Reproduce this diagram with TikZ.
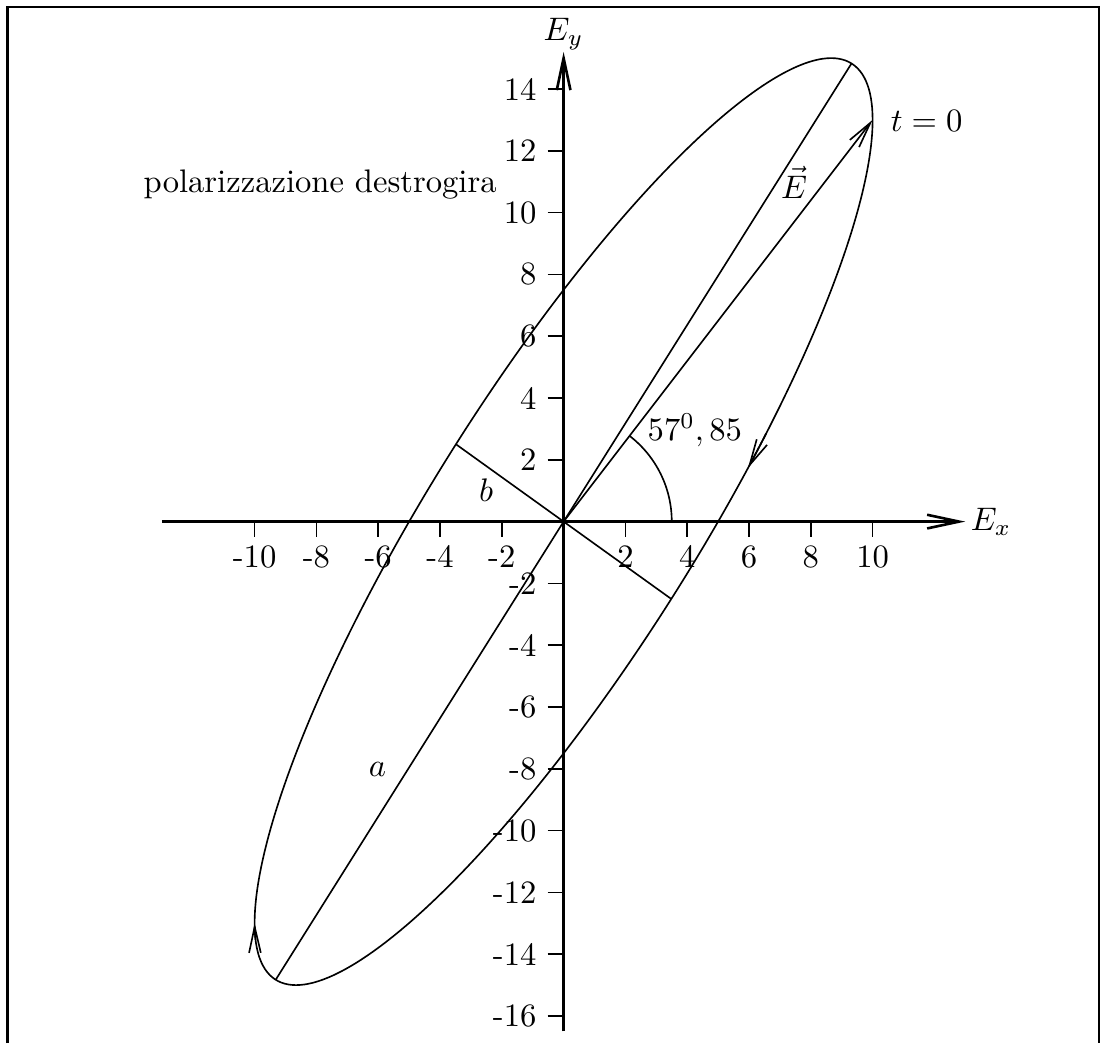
\documentclass[tikz,border=0pt]{standalone}
\usetikzlibrary{arrows.meta}
\begin{document}
\begin{tikzpicture}[x=0.333cm,y=0.333cm,
  curve/.style={line width=0.5pt},
  axisline/.style={line width=0.8pt,-{Straight Barb[length=9.8pt,width=4.2pt]}},
  tipend/.style={-{Straight Barb[length=8pt,width=3.6pt]}},
  tickmark/.style={line width=0.5pt},
  lbl/.style={inner sep=0pt}]
\useasboundingbox (-18.24,-16.88) rectangle (17.65,16.88);
% frame
\coordinate (F1) at (-18,-16.88);
\coordinate (F2) at (-18,16.66);
\coordinate (F3) at (17.32,16.66);
\coordinate (F4) at (17.32,-16.88);
\draw[line width=0.7pt] (F1) -- (F2) -- (F3) -- (F4);
% axes
\coordinate (O) at (0,0);
\coordinate (xs) at (-13,0);
\coordinate (xe) at (13,0);
\coordinate (ys) at (0,-16.5);
\coordinate (ye) at (0,15.2);
\draw[axisline] (xs) -- (xe);
\draw[axisline] (ys) -- (ye);
\node[anchor=west,inner sep=1.5pt] (Ex) at (xe) {$E_x$};
\node[anchor=south,inner sep=0.5pt] (Ey) at (ye) {$E_y$};
% ticks
\foreach \v in {-10,-8,-6,-4,-2,2,4,6,8,10}{
  \draw[tickmark] (\v,0) -- (\v,-0.49);
  \node[lbl,anchor=base] (xl\v) at (\v,-1.48) {\v};
}
\foreach \v in {-16,-14,-12,-10,-8,-6,-4,-2,2,4,6,8,10,12,14}{
  \draw[tickmark] (-0.52,\v) -- (0,\v);
  \node[lbl,anchor=east] (yl\v) at (-0.86,\v) {\v};
}
% ellipse
\draw[curve] plot[domain=0:360,samples=241,smooth] ({10*cos(\x)},{15*cos(\x+30)});
\draw[curve,tipend] plot[domain=49:53.4,samples=6] ({10*cos(\x)},{15*cos(\x+30)});
\draw[curve,tipend] plot[domain=175.6:180,samples=6] ({10*cos(\x)},{15*cos(\x+30)});
% axes of ellipse
\coordinate (A1) at (9.317,14.826);
\coordinate (A2) at (-9.317,-14.826);
\coordinate (B1) at (-3.48,2.50);
\coordinate (B2) at (3.48,-2.50);
\draw[curve] (A2) -- (A1);
\draw[curve] (B1) -- (B2);
% field vector
\coordinate (Et) at (10,13);
\draw[curve,tipend] (O) -- (Et);
% angle arc
\coordinate (R0) at (3.5,0);
\draw[curve] (R0) arc[start angle=0,end angle=52.43,radius=3.5];
% labels
\node[lbl,anchor=base west] (pol) at (-13.61,10.66) {polarizzazione destrogira};
\node[lbl,anchor=base west] (t0) at (10.57,12.61) {$t=0$};
\node[lbl,anchor=base west] (ang) at (2.70,2.64) {$57^0,85$};
\node[lbl,anchor=base] (Evec) at (7.46,10.47) {$\vec{E}$};
\node[lbl,anchor=base] (lb) at (-2.51,0.64) {$b$};
\node[lbl,anchor=base] (la) at (-6.02,-8.26) {$a$};
\end{tikzpicture}
\end{document}
